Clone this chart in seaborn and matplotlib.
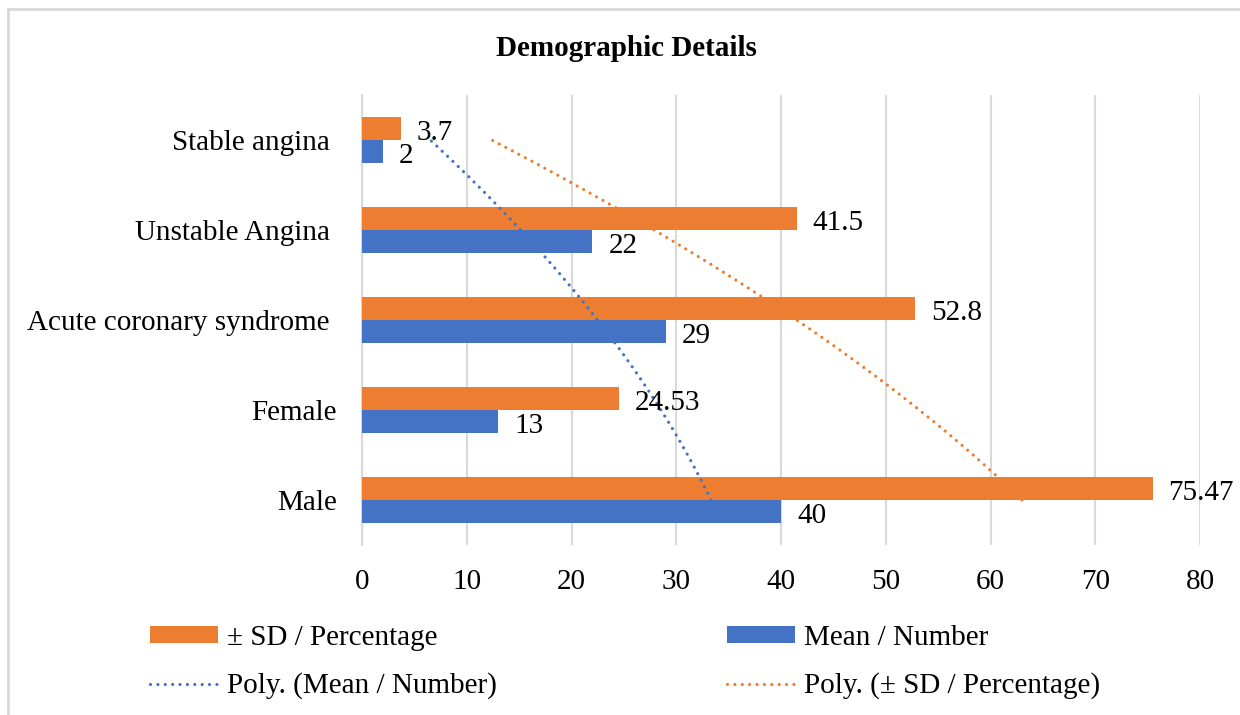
import numpy as np
import pandas as pd
import matplotlib
matplotlib.use("Agg")
import matplotlib.pyplot as plt
from matplotlib.patches import Rectangle, Patch
from matplotlib.lines import Line2D
import seaborn as sns

# ---- data (top-to-bottom as displayed) ----
categories = ["Stable angina ", "Unstable Angina ", "Acute coronary syndrome ", "Female", "Male"]
sd_percentage = [3.7, 41.5, 52.8, 24.53, 75.47]
mean_number = [2, 22, 29, 13, 40]
series_names = ["\u00b1 SD / Percentage", "Mean / Number"]
x_ticks = [0, 10, 20, 30, 40, 50, 60, 70, 80]

ORANGE = "#ED7D31"
BLUE = "#4472C4"
GRID = "#D9D9D9"
FS = 21
LW = 2.3
DOTS = (0.01, 2.3)

sns.set_theme(style="white")
plt.rcParams["font.family"] = ["Liberation Serif", "DejaVu Serif"]
plt.rcParams["text.color"] = "black"

df = pd.DataFrame({
    "category": categories * 2,
    "value": sd_percentage + mean_number,
    "series": [series_names[0]] * len(categories) + [series_names[1]] * len(categories),
})

W, H = 1240, 715
fig = plt.figure(figsize=(W / 100, H / 100), dpi=100)
ax = fig.add_axes([362 / W, 1 - 545 / H, (1200 - 362) / W, (545 - 95) / H])

sns.barplot(data=df, y="category", x="value", hue="series", order=categories,
            hue_order=series_names, palette=[ORANGE, BLUE], orient="h",
            width=0.512, dodge=True, ax=ax, legend=False, saturation=1,
            edgecolor="none", linewidth=0)

# bar z-order and labels
for cont, z, vals in zip(ax.containers, [2, 4], [sd_percentage, mean_number]):
    for bar, v in zip(cont, vals):
        bar.set_zorder(z)
        yc = bar.get_y() + bar.get_height() / 2
        ax.annotate(f"{v:g}", xy=(v, yc), xytext=(11.5, -3), textcoords="offset points",
                    ha="left", va="center", fontsize=FS, color="black", zorder=6)

# Excel-style order-2 polynomial trendlines (category index 1 = bottom category)
n = len(categories)
xi = np.arange(1, n + 1)
dense = np.linspace(1, n, 200)
dense_pos = n - dense
for vals, col, z in [(mean_number, BLUE, 3), (sd_percentage, ORANGE, 1)]:
    excel_order = np.array(vals[::-1], dtype=float)
    coef = np.polyfit(xi, excel_order, 2)
    fit = np.polyval(coef, dense)
    ax.plot(fit, dense_pos, color=col, lw=LW, dashes=DOTS,
            dash_capstyle="round", zorder=z)

ax.set_xlim(0, 80)
ax.set_ylim(n - 0.5, -0.5)
ax.set_xticks(x_ticks)
ax.set_xticklabels([str(t) for t in x_ticks])
ax.xaxis.grid(True, color=GRID, lw=1.5)
ax.set_axisbelow(True)
ax.set_xlabel("")
ax.set_ylabel("")
for s in ["top", "right", "bottom"]:
    ax.spines[s].set_visible(False)
ax.spines["left"].set_color(GRID)
ax.spines["left"].set_linewidth(1.5)
ax.spines["left"].set_zorder(0.6)
ax.tick_params(axis="both", length=0, labelsize=FS, colors="black")
ax.tick_params(axis="y", pad=18)
ax.tick_params(axis="x", pad=17)

# title
fig.text(626 / W, 1 - 49 / H, "Demographic Details", ha="center", va="center",
         fontsize=FS, fontweight="bold", color="black")

# legend
handles = [
    Patch(facecolor=ORANGE, edgecolor="none"),
    Line2D([], [], color=BLUE, lw=LW, dashes=DOTS, dash_capstyle="round"),
    Patch(facecolor=BLUE, edgecolor="none"),
    Line2D([], [], color=ORANGE, lw=LW, dashes=DOTS, dash_capstyle="round"),
]
labels = [series_names[0], "Poly. (Mean / Number)", series_names[1], "Poly. (\u00b1 SD / Percentage)"]
leg = fig.legend(handles, labels, loc="upper left", bbox_to_anchor=(150 / W, 1 - 625 / H),
                 ncol=2, frameon=False, fontsize=FS, handlelength=2.33, handleheight=0.5,
                 handletextpad=0.3, columnspacing=7.9, labelspacing=0.73, borderpad=0,
                 borderaxespad=0)
for t in leg.get_texts():
    t.set_color("black")

# chart frame (top and left edges visible)
fig.add_artist(Rectangle((8 / W, -0.2), 2, 1 - 9 / H + 0.2, transform=fig.transFigure,
                         fill=False, edgecolor=GRID, lw=2))

fig.savefig("out.png", dpi=100)
